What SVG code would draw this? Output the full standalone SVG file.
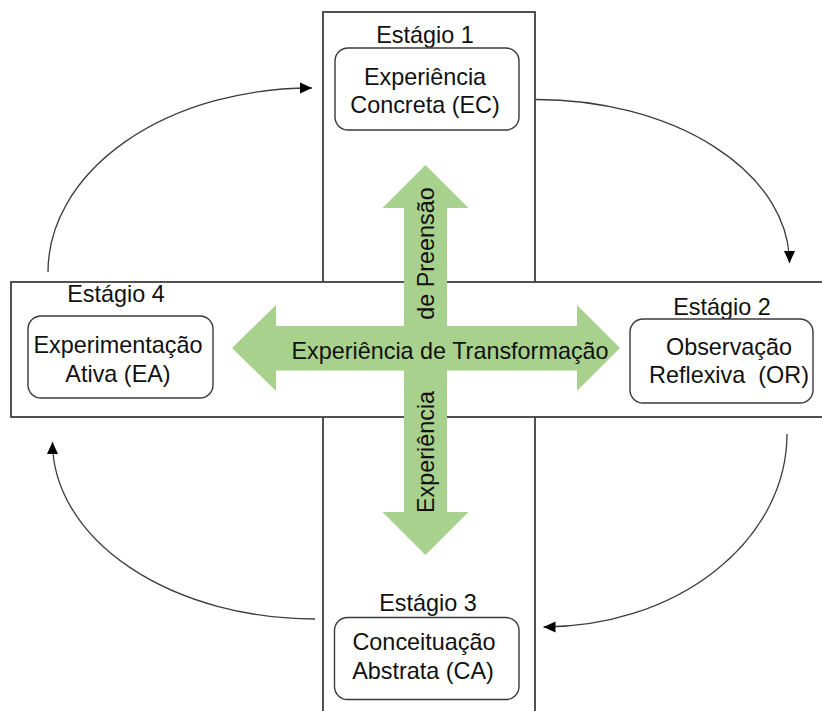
<svg xmlns="http://www.w3.org/2000/svg" width="822" height="711" viewBox="0 0 822 711">
  <style>
    .frame { fill: #ffffff; stroke: #3f3f3f; stroke-width: 1.8; }
    .stage { fill: #ffffff; stroke: #3a3a3a; stroke-width: 1.4; }
    .label { font-family: "Liberation Sans", Arial, sans-serif; font-size: 23.4px; fill: #111111; text-anchor: middle; }
    .flow { fill: none; stroke: #3c3c3c; stroke-width: 1.3; }
    .cross { fill: #a9d18e; }
  </style>
  <defs>
    <marker id="head" markerUnits="userSpaceOnUse" markerWidth="13" markerHeight="12" refX="12" refY="5.5" orient="auto">
      <path d="M0,0 L12,5.5 L0,11 z" fill="#000000"/>
    </marker>
  </defs>

  <rect width="822" height="711" fill="#ffffff"/>

  <!-- vertical band (perception axis), then horizontal band (transformation axis) on top -->
  <rect class="frame" x="323" y="12" width="212" height="720"/>
  <rect class="frame" x="11" y="282" width="830" height="135"/>

  <!-- two-way green axes -->
  <g id="axes">
    <polygon class="cross" points="425.5,165 468.5,208 447,208 447,326 577,326 577,305 620,348 577,391 577,370.5 447,370.5 447,512 468.5,512 425.5,555 382.5,512 404,512 404,370.5 276,370.5 276,391 232,348 276,305 276,326 404,326 404,208 382.5,208"/>
    <text class="label" x="450" y="359">Experiência de Transformação</text>
    <text class="label" transform="translate(434,253.5) rotate(-90)">de Preensão</text>
    <text class="label" transform="translate(433.5,452) rotate(-90)">Experiência</text>
  </g>

  <!-- cycle connectors -->
  <g id="connectors">
    <path class="flow" marker-end="url(#head)" d="M48,272 A263,184 0 0 1 312,88"/>
    <path class="flow" marker-end="url(#head)" d="M536,99.5 A253.5,163.5 0 0 1 789.5,263"/>
    <path class="flow" marker-end="url(#head)" d="M787,434 A243.5,193 0 0 1 543.5,627"/>
    <path class="flow" marker-end="url(#head)" d="M315,619 A262.5,177 0 0 1 52.5,442"/>
  </g>

  <g id="stage1">
    <text class="label" x="425" y="43">Estágio 1</text>
    <rect class="stage" x="335" y="48" width="184" height="82" rx="13"/>
    <text class="label" x="425" y="85">Experiência</text>
    <text class="label" x="425" y="112.5">Concreta (EC)</text>
  </g>

  <g id="stage2">
    <text class="label" x="722" y="315">Estágio 2</text>
    <rect class="stage" x="630" y="319" width="183" height="84" rx="13"/>
    <text class="label" x="729" y="355">Observação</text>
    <text class="label" x="729" y="383" style="white-space:pre">Reflexiva  (OR)</text>
  </g>

  <g id="stage3">
    <text class="label" x="428" y="610.5">Estágio 3</text>
    <rect class="stage" x="334.5" y="617.5" width="184.5" height="82" rx="13"/>
    <text class="label" x="424" y="650">Conceituação</text>
    <text class="label" x="423" y="679">Abstrata (CA)</text>
  </g>

  <g id="stage4">
    <text class="label" x="116" y="302">Estágio 4</text>
    <rect class="stage" x="28" y="316" width="185" height="82" rx="13"/>
    <text class="label" x="118" y="353">Experimentação</text>
    <text class="label" x="118" y="381.5">Ativa (EA)</text>
  </g>
</svg>
